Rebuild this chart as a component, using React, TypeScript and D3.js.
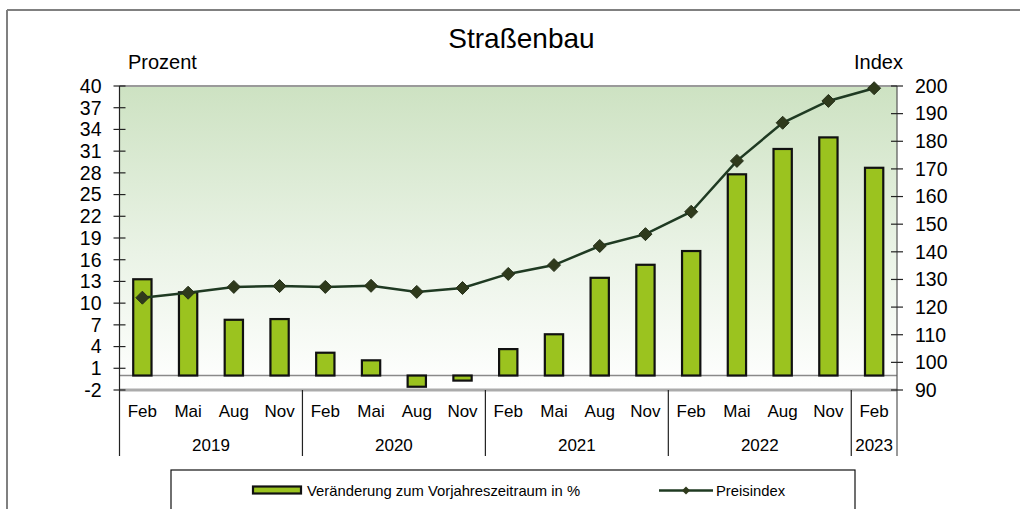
import React from "react";
import * as d3 from "d3";

const months = ["Feb", "Mai", "Aug", "Nov", "Feb", "Mai", "Aug", "Nov", "Feb", "Mai", "Aug", "Nov", "Feb", "Mai", "Aug", "Nov", "Feb"];
const years = [
  { label: "2019", start: 0, count: 4 },
  { label: "2020", start: 4, count: 4 },
  { label: "2021", start: 8, count: 4 },
  { label: "2022", start: 12, count: 4 },
  { label: "2023", start: 16, count: 1 },
];
const changePct = [13.3, 11.5, 7.7, 7.8, 3.15, 2.1, -1.55, -0.7, 3.65, 5.7, 13.5, 15.3, 17.2, 27.8, 31.3, 32.9, 28.7];
const priceIndex = [123.4, 125.2, 127.3, 127.6, 127.3, 127.7, 125.5, 126.9, 132.0, 135.2, 142.1, 146.4, 154.5, 172.9, 186.7, 194.6, 199.2];
const leftTicks = [-2, 1, 4, 7, 10, 13, 16, 19, 22, 25, 28, 31, 34, 37, 40];
const rightTicks = [90, 100, 110, 120, 130, 140, 150, 160, 170, 180, 190, 200];

const W = 1020, H = 509;
const L = 119.5, R = 897, T = 86, B = 390;
const AXB = 456;
const FONT = "'Liberation Sans', Arial, sans-serif";
const BAR = "#9BC31F";
const LINE = "#1F3A22";
const MARK = "#2F3A1C";

export default function App() {
  const idx = months.map((_, i) => i);
  const x = d3.scaleBand<number>().domain(idx).range([L, R]).paddingInner(0).paddingOuter(0);
  const yL = d3.scaleLinear().domain([-2, 40]).range([B, T]);
  const yR = d3.scaleLinear().domain([90, 200]).range([B, T]);
  const bw = x.bandwidth();
  const barW = bw * 0.4;
  const line = d3.line<number>().x((_, i) => x(i)! + bw / 2).y((d) => yR(d));
  const dia = (cx: number, cy: number, r: number) => `M${cx},${cy - r}L${cx + r},${cy}L${cx},${cy + r}L${cx - r},${cy}Z`;

  return (
    <svg width={W} height={H} style={{ position: "absolute", left: 0, top: 0, background: "#fff" }} fontFamily={FONT}>
      <defs>
        <linearGradient id="bg" x1="0" y1="0" x2="0" y2="1">
          <stop offset="0" stopColor="#CDE2C2" />
          <stop offset="0.55" stopColor="#EAF3E6" />
          <stop offset="1" stopColor="#FFFFFF" />
        </linearGradient>
      </defs>
      {/* outer frame */}
      <line x1={7} y1={10} x2={W} y2={10} stroke="#808080" strokeWidth={2} />
      <line x1={7} y1={10} x2={7} y2={H} stroke="#808080" strokeWidth={2} />

      <text x={521.5} y={48} fontSize={28} textAnchor="middle" fill="#000">Straßenbau</text>
      <text x={128} y={69} fontSize={20} fill="#000">Prozent</text>
      <text x={903} y={69} fontSize={20} fill="#000" textAnchor="end">Index</text>

      {/* plot background */}
      <rect x={L} y={T} width={R - L} height={B - T} fill="url(#bg)" />
      <line x1={L} y1={T} x2={R} y2={T} stroke="#9A9A9A" strokeWidth={2} />
      <line x1={L} y1={B} x2={R} y2={B} stroke="#ABABAB" strokeWidth={3} />
      <line x1={L} y1={yL(0)} x2={R} y2={yL(0)} stroke="#8A8A8A" strokeWidth={1.5} />

      {/* bars */}
      {changePct.map((v, i) => (
        <rect key={i} x={x(i)! + bw / 2 - barW / 2} y={Math.min(yL(v), yL(0))} width={barW}
          height={Math.abs(yL(v) - yL(0))} fill={BAR} stroke="#111" strokeWidth={2.2} />
      ))}

      {/* line */}
      <path d={line(priceIndex) || ""} fill="none" stroke={LINE} strokeWidth={2.5} />
      {priceIndex.map((v, i) => (
        <path key={i} d={dia(x(i)! + bw / 2, yR(v), 6.5)} fill={MARK} stroke="#26301A" strokeWidth={1} />
      ))}

      {/* left axis */}
      <line x1={L} y1={T} x2={L} y2={AXB} stroke="#222" strokeWidth={1.2} />
      {leftTicks.map((t) => (
        <g key={t}>
          <line x1={L - 6} x2={L + 6} y1={yL(t)} y2={yL(t)} stroke="#222" strokeWidth={1.2} />
          <text x={L - 18} y={yL(t)} dy="0.35em" fontSize={19.5} textAnchor="end" fill="#000">{t}</text>
        </g>
      ))}
      {/* right axis */}
      <line x1={R} y1={T} x2={R} y2={AXB} stroke="#555" strokeWidth={1.2} />
      {rightTicks.map((t) => (
        <g key={t}>
          <line x1={R - 6} x2={R + 6} y1={yR(t)} y2={yR(t)} stroke="#222" strokeWidth={1.2} />
          <text x={R + 18} y={yR(t)} dy="0.35em" fontSize={19.5} textAnchor="start" fill="#000">{t}</text>
        </g>
      ))}

      {/* category axis */}
      {months.map((m, i) => (
        <text key={i} x={x(i)! + bw / 2} y={417} fontSize={17} textAnchor="middle" fill="#000">{m}</text>
      ))}
      {years.map((yr) => {
        const x0 = x(yr.start)!;
        const x1 = x0 + bw * yr.count;
        return (
          <g key={yr.label}>
            <text x={(x0 + x1) / 2} y={451} fontSize={17} textAnchor="middle" fill="#000">{yr.label}</text>
            {yr.start > 0 && <line x1={x0} x2={x0} y1={B} y2={AXB} stroke="#222" strokeWidth={1.2} />}
          </g>
        );
      })}

      {/* legend */}
      <rect x={171} y={470} width={684} height={50} fill="#fff" stroke="#111" strokeWidth={1.2} />
      <rect x={253} y={486.5} width={48} height={7} fill={BAR} stroke="#111" strokeWidth={2.2} />
      <text x={307} y={496} fontSize={14.8} fill="#000">Veränderung zum Vorjahreszeitraum in %</text>
      <line x1={659} x2={713} y1={490.5} y2={490.5} stroke={LINE} strokeWidth={2.5} />
      <path d={dia(686, 490.5, 4)} fill={MARK} />
      <text x={716} y={496} fontSize={14.8} fill="#000">Preisindex</text>
    </svg>
  );
}
